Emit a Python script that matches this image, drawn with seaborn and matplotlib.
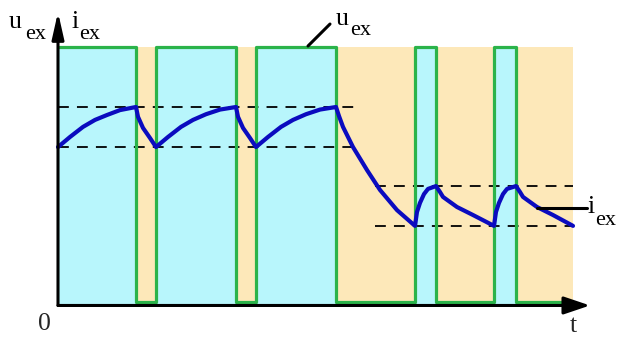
import matplotlib
matplotlib.use("Agg")
import matplotlib.pyplot as plt
import seaborn as sns

# ---- data ----
# excitation voltage u_ex: switching instants and levels (steps-post)
switch_t = [0.0, 7.8, 9.8, 17.8, 19.8, 27.8, 35.7, 37.8, 43.6, 45.8, 51.5]
u_level = [10.0, 0.12, 10.0, 0.12, 10.0, 0.12, 10.0, 0.12, 10.0, 0.12, 0.12]

# excitation current i_ex
i_t = [0.0, 1.2, 2.5, 3.7, 4.9, 6.2, 7.8,
       8.0, 8.5, 9.2, 9.8,
       11.0, 12.3, 13.5, 14.8, 16.2, 17.8,
       18.0, 18.5, 19.2, 19.8,
       21.0, 22.3, 23.5, 24.8, 26.2, 27.8,
       28.1, 28.5, 29.5, 30.9, 32.2, 33.9, 35.7,
       35.9, 36.2, 36.6, 37.0, 37.8,
       38.2, 38.5, 39.9, 41.5, 43.6,
       43.8, 44.1, 44.5, 44.9, 45.8,
       46.2, 46.5, 47.9, 49.5, 51.5]
i_val = [6.13, 6.52, 6.91, 7.18, 7.37, 7.56, 7.68,
         7.30, 6.87, 6.48, 6.13,
         6.52, 6.91, 7.18, 7.40, 7.58, 7.68,
         7.30, 6.87, 6.48, 6.13,
         6.52, 6.91, 7.18, 7.40, 7.58, 7.68,
         7.33, 6.91, 6.13, 5.24, 4.47, 3.69, 3.08,
         3.62, 3.97, 4.31, 4.51, 4.62,
         4.39, 4.20, 3.81, 3.50, 3.08,
         3.62, 3.97, 4.31, 4.51, 4.62,
         4.39, 4.20, 3.81, 3.50, 3.08]

# ripple bands (dashed guide lines)
band_upper = [7.68, 4.62]
band_lower = [6.13, 3.08]
band_start = [0.0, 31.7]
band_end = [29.7, 51.5]

# ---- style ----
CYAN = "#b8f6fc"
TAN = "#fde8b9"
GREEN = "#2bb34a"
BLUE = "#0b0bbf"

sns.set_theme(style="white")
plt.rcParams["font.family"] = ["Liberation Serif", "DejaVu Serif"]

fig = plt.figure(figsize=(6.19, 3.37), dpi=100)
ax = fig.add_axes([0, 0, 1, 1])
ax.set_xlim(-5.8, 56.1)
ax.set_ylim(-1.22, 11.82)
ax.axis("off")

# background shading: on-intervals cyan, off-intervals tan
for k in range(len(switch_t) - 1):
    col = CYAN if u_level[k] > 5 else TAN
    ax.fill_between([switch_t[k], switch_t[k + 1]], 0, max(u_level),
                    color=col, lw=0, zorder=0)

# dashed band lines
for lo, hi, a, b in zip(band_lower, band_upper, band_start, band_end):
    ax.hlines([lo, hi], a, b, colors="black", lw=1.3,
              linestyles=(0, (6, 4.5)), zorder=1)

# u_ex rectangular waveform
sns.lineplot(x=switch_t, y=u_level, ax=ax, color=GREEN, lw=2.3,
             drawstyle="steps-post", estimator=None, sort=False, zorder=2)

# i_ex current
sns.lineplot(x=i_t, y=i_val, ax=ax, color=BLUE, lw=3.0,
             estimator=None, sort=False, zorder=3,
             solid_joinstyle="round", solid_capstyle="round")

# axes with arrows
ax.annotate("", xy=(0, 11.35), xytext=(0, 0),
            arrowprops=dict(arrowstyle="-|>,head_length=0.8,head_width=0.18",
                            lw=2.2, color="black", shrinkA=0, shrinkB=0,
                            mutation_scale=20), zorder=5)
ax.annotate("", xy=(53.2, 0), xytext=(0, 0),
            arrowprops=dict(arrowstyle="-|>,head_length=0.8,head_width=0.27",
                            lw=2.2, color="black", shrinkA=0, shrinkB=0,
                            mutation_scale=20), zorder=5)

MAIN = 18.5
SUB = 16

def label(x, y, xs, ys, main, sub):
    ax.text(x, y, main, fontsize=MAIN, va="baseline", ha="left", color="black")
    ax.text(xs, ys, sub, fontsize=SUB, va="baseline", ha="left", color="black")

label(-4.9, 10.73, -3.3, 10.33, "u", "ex")
label(1.4, 10.73, 2.1, 10.33, "i", "ex")
label(27.8, 10.85, 29.2, 10.45, "u", "ex")
label(53.0, 3.58, 53.7, 3.10, "i", "ex")

# leader lines
ax.plot([25.0, 27.2], [10.04, 10.89], color="black", lw=2.2, zorder=6)
ax.plot([47.9, 52.9], [3.77, 3.77], color="black", lw=2.2, zorder=6)

ax.text(-1.4, -0.95, "0", fontsize=MAIN, ha="center", va="baseline")
ax.text(51.2, -1.02, "t", fontsize=MAIN, ha="left", va="baseline")

fig.savefig("out.png", dpi=100)
